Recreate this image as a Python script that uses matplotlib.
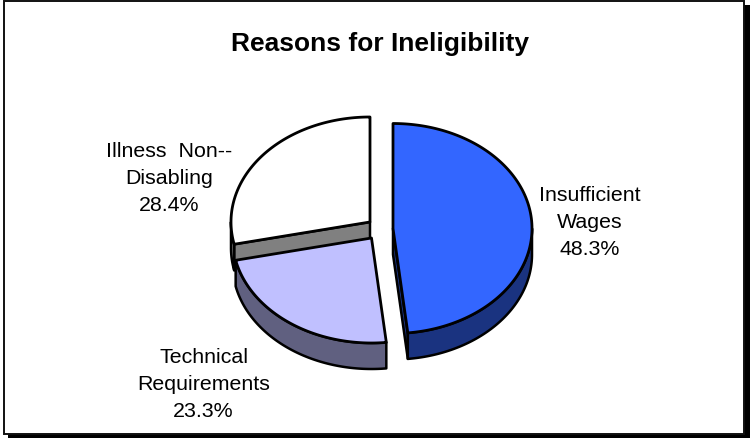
"""Reasons for Ineligibility - exploded 3D style pie."""

import numpy as np
import matplotlib
matplotlib.use("Agg")
import matplotlib.pyplot as plt
from matplotlib.patches import Rectangle

plt.rcParams["font.family"] = ["Liberation Sans", "DejaVu Sans"]

labels = ["Insufficient\nWages", "Technical\nRequirements", "Illness  Non--\nDisabling"]
values = [48.3, 23.3, 28.4]
top_colors = ["#3366ff", "#c0c0ff", "#ffffff"]
side_colors = ["#1a3380", "#606080", "#808080"]

# pixel centre of each slice's top face
centers = [(393, 229.5), (371.5, 239), (370, 223)]
label_pos = [(590, 222.5), (203.5, 384.5), (169.5, 178.5)]

RX, RY, DEPTH = 139, 105, 26
W, H = 751, 439


def rim(cx, cy, t0, t1, dy=0):
    # t is measured clockwise from 12 o'clock, in degrees
    t = np.radians(np.linspace(t0, t1, 200))
    return cx + RX * np.sin(t), cy - RY * np.cos(t) + dy


fig = plt.figure(figsize=(W / 100, H / 100), dpi=100)
ax = fig.add_axes([0, 0, 1, 1])
ax.set_xlim(0, W)
ax.set_ylim(H, 0)
ax.axis("off")

# frame and its drop shadow
ax.add_patch(Rectangle((8, 6), W - 9, H - 6, fc="black", ec="none", zorder=0))
ax.add_patch(Rectangle((3.5, 1.5), 740, 434, fc="white", ec="#111111", lw=1.4, zorder=1))

edges = np.cumsum([0] + values) / sum(values) * 360
z = 2
for i in [2, 0, 1]:
    cx, cy = centers[i]
    t0, t1 = edges[i], edges[i + 1]

    # flat cut face, seen only where it turns towards the viewer
    if i in (0, 2):
        ex, ey = rim(cx, cy, t1, t1) if i == 0 else rim(cx, cy, t0, t0)
        ax.fill([cx, ex[0], ex[0], cx], [cy, ey[0], ey[0] + DEPTH, cy + DEPTH],
                fc=side_colors[i], ec="black", lw=1.8, joinstyle="round", zorder=z)

    # outer wall, front half of the ellipse only
    a0, a1 = max(t0, 90), min(t1, 270)
    if a1 > a0:
        x, y = rim(cx, cy, a0, a1)
        xb, yb = rim(cx, cy, a0, a1, DEPTH)
        ax.fill(np.r_[x, xb[::-1]], np.r_[y, yb[::-1]],
                fc=side_colors[i], ec="black", lw=1.8, joinstyle="round", zorder=z)

    # top face
    x, y = rim(cx, cy, t0, t1)
    ax.fill(np.r_[cx, x], np.r_[cy, y], fc=top_colors[i], ec="black", lw=2.0,
            joinstyle="round", zorder=z)
    z += 1

for lab, val, (lx, ly) in zip(labels, values, label_pos):
    ax.text(lx, ly, f"{lab}\n{val:.1f}%", ha="center", va="center", fontsize=15.4,
            linespacing=1.56, color="black", zorder=10)

ax.text(380, 44, "Reasons for Ineligibility", ha="center", va="center", fontsize=19,
        fontweight="bold", color="black", zorder=10)

fig.savefig("out.png", dpi=100)
plt.close(fig)
